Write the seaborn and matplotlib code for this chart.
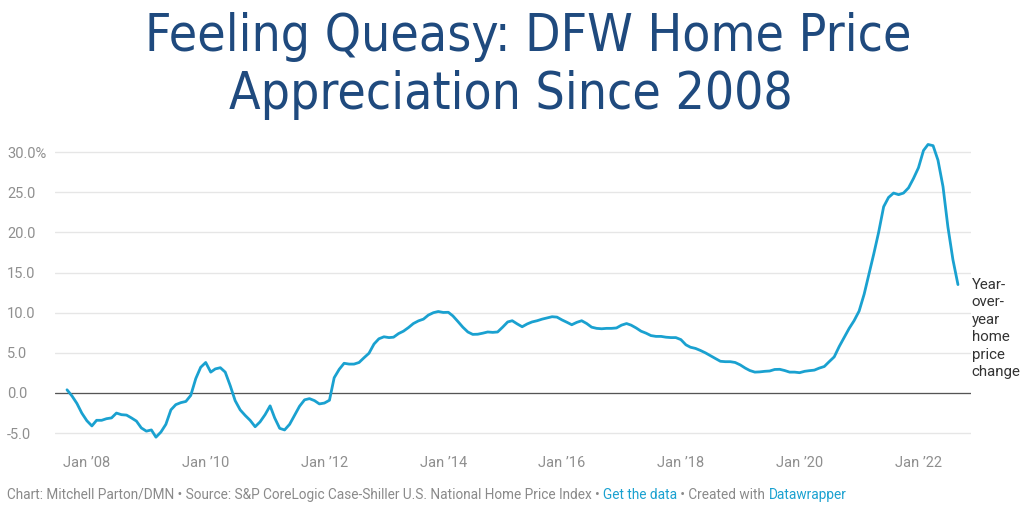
import numpy as np
import pandas as pd
import matplotlib
matplotlib.use("Agg")
import matplotlib.pyplot as plt
import matplotlib.dates as mdates
import seaborn as sns

# ---- data ----
start_month = "2007-09-01"
yoy_change = [
    0.4, -0.35, -1.3, -2.5, -3.45, -4.1, -3.4, -3.4, -3.2, -3.1, -2.5, -2.7,
    -2.75, -3.1, -3.5, -4.35, -4.75, -4.6, -5.5, -4.85, -3.9, -2.1, -1.45, -1.2,
    -1.05, -0.3, 1.8, 3.2, 3.8, 2.6, 3.0, 3.15, 2.6, 0.9, -0.95, -2.1,
    -2.8, -3.4, -4.2, -3.6, -2.7, -1.6, -3.1, -4.4, -4.6, -3.9, -2.8, -1.65,
    -0.85, -0.7, -0.95, -1.36, -1.25, -0.9, 1.9, 2.95, 3.7, 3.6, 3.6, 3.8,
    4.4, 4.95, 6.1, 6.75, 7.0, 6.9, 6.95, 7.4, 7.7, 8.15, 8.65, 8.98,
    9.2, 9.7, 10.0, 10.15, 10.03, 10.05, 9.6, 8.9, 8.2, 7.6, 7.3, 7.32,
    7.45, 7.6, 7.55, 7.6, 8.2, 8.85, 9.0, 8.6, 8.25, 8.6, 8.85, 9.0,
    9.2, 9.35, 9.5, 9.45, 9.1, 8.8, 8.5, 8.8, 9.0, 8.65, 8.2, 8.05,
    8.0, 8.05, 8.05, 8.1, 8.45, 8.65, 8.45, 8.1, 7.7, 7.45, 7.15, 7.05,
    7.05, 6.95, 6.9, 6.9, 6.65, 6.0, 5.7, 5.55, 5.3, 5.0, 4.65, 4.3,
    3.95, 3.9, 3.9, 3.8, 3.5, 3.1, 2.8, 2.6, 2.63, 2.7, 2.74, 2.93,
    2.95, 2.8, 2.6, 2.6, 2.53, 2.7, 2.78, 2.85, 3.1, 3.3, 3.9, 4.5,
    5.8, 6.9, 8.05, 9.0, 10.2, 12.3, 14.7, 17.3, 20.0, 23.2, 24.35, 24.9,
    24.7, 24.9, 25.55, 26.7, 28.05, 30.2, 30.95, 30.8, 29.0, 25.7, 20.7, 16.6,
    13.5,
]
y_ticks = [-5, 0, 5, 10, 15, 20, 25, 30]
y_tick_labels = ["-5.0", "0.0", "5.0", "10.0", "15.0", "20.0", "25.0", "30.0%"]
x_tick_dates = ["2008-01-01", "2010-01-01", "2012-01-01", "2014-01-01",
                "2016-01-01", "2018-01-01", "2020-01-01", "2022-01-01"]
x_tick_labels = ["Jan \u201908", "Jan \u201910", "Jan \u201912", "Jan \u201914",
                 "Jan \u201916", "Jan \u201918", "Jan \u201920", "Jan \u201922"]
title_lines = ["Feeling Queasy: DFW Home Price", "Appreciation Since 2008"]
line_label = "Year-\nover-\nyear\nhome\nprice\nchange"
footer_parts = [
    ("Chart: Mitchell Parton/DMN \u2022 Source: S&P CoreLogic Case-Shiller U.S. National Home Price Index \u2022 ", "#8a8a8a"),
    ("Get the data", "#1aa1d0"),
    (" \u2022 Created with ", "#8a8a8a"),
    ("Datawrapper", "#1aa1d0"),
]

dates = pd.date_range(start_month, periods=len(yoy_change), freq="MS")
df = pd.DataFrame({"date": dates, "change": yoy_change})

sns.set_theme(style="white")
plt.rcParams["font.family"] = ["Roboto", "DejaVu Sans"]

W, H = 1024, 512
fig = plt.figure(figsize=(W / 100, H / 100), dpi=100)
fig.patch.set_facecolor("white")

left_px, right_px = 55, 971
ylo, yhi = -6.5, 31.5
top_px = 393 - 8.03 * yhi
bot_px = 393 - 8.03 * ylo
ax = fig.add_axes([left_px / W, 1 - bot_px / H, (right_px - left_px) / W, (bot_px - top_px) / H])

sns.lineplot(data=df, x="date", y="change", ax=ax, color="#1aa1d0", linewidth=2.0)

d0 = mdates.date2num(dates[0])
per_month = 30.44
ax.set_xlim(d0 + (left_px - 67) / 4.95 * per_month, d0 + (right_px - 67) / 4.95 * per_month)
ax.set_ylim(ylo, yhi)

ax.set_yticks(y_ticks)
ax.set_yticklabels(y_tick_labels)
ax.set_xticks([mdates.date2num(pd.Timestamp(d)) for d in x_tick_dates])
ax.set_xticklabels(x_tick_labels)
ax.tick_params(axis="both", length=0, labelsize=10.5, colors="#8f8f8f")
ax.tick_params(axis="y", pad=(left_px - 7) * 0.72)
for lbl in ax.get_yticklabels():
    lbl.set_horizontalalignment("left")
ax.tick_params(axis="x", pad=8)

ax.grid(axis="y", color="#e6e6e6", linewidth=1.0)
ax.grid(axis="x", visible=False)
ax.axhline(0, color="#555555", linewidth=0.9, zorder=1.5)
for s in ax.spines.values():
    s.set_visible(False)
ax.set_xlabel("")
ax.set_ylabel("")

ax.annotate(line_label, xy=(mdates.date2num(dates[-1]), yoy_change[-1]),
            xytext=(10, 5), textcoords="offset points", ha="left", va="top",
            fontsize=10.8, color="#333333", linespacing=1.32)

# title (two lines)
for txt, xc, yc in zip(title_lines, [528, 511], [37, 95]):
    fig.text(xc / W, 1 - yc / H, txt, ha="center", va="center",
             fontsize=37, color="#1f4a7e", family=["DejaVu Sans"], stretch="condensed")

fig.canvas.draw()
renderer = fig.canvas.get_renderer()
x = 7 / W
for txt, col in footer_parts:
    t = fig.text(x, 1 - 495 / H, txt, ha="left", va="center", fontsize=9.8, color=col)
    bb = t.get_window_extent(renderer=renderer)
    x += bb.width / W

fig.savefig("out.png", dpi=100, facecolor="white")
